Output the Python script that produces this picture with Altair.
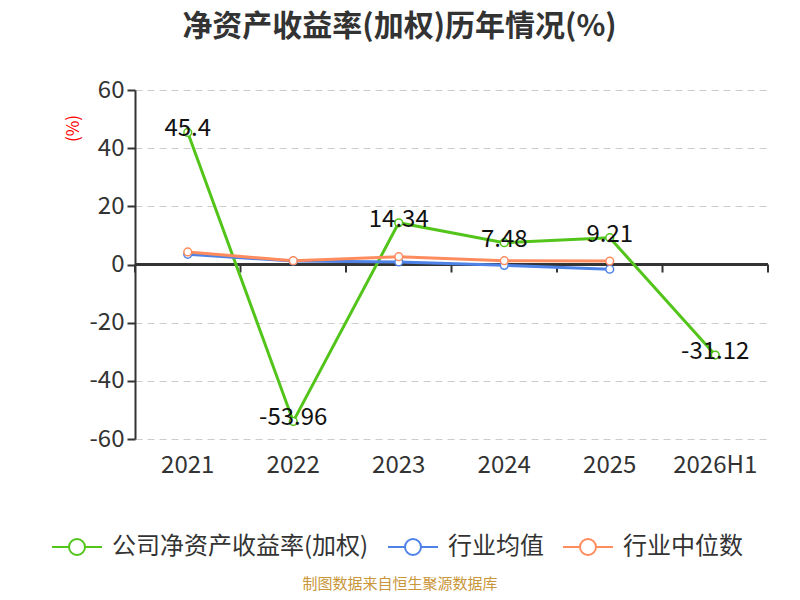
import altair as alt
import pandas as pd

YEARS = ["2021", "2022", "2023", "2024", "2025", "2026H1"]
COMPANY = [45.4, -53.96, 14.34, 7.48, 9.21, -31.12]
IND_AVG = [3.5, 1.2, 0.9, -0.3, -1.6, None]
IND_MEDIAN = [4.3, 1.3, 2.7, 1.3, 1.2, None]

SERIES = ["公司净资产收益率(加权)", "行业均值", "行业中位数"]
COLORS = ["#52c41a", "#4e82e6", "#ff8c5f"]
FONT = "Noto Sans CJK SC"
AXIS_COLOR = "#333333"

rows = []
for name, values in zip(SERIES, [COMPANY, IND_AVG, IND_MEDIAN]):
    for year, v in zip(YEARS, values):
        if v is not None:
            rows.append({"year": year, "series": name, "value": v, "label": f"{v:g}"})
df = pd.DataFrame(rows)
company = df[df["series"] == SERIES[0]]
years_df = pd.DataFrame({"year": YEARS})

# legend icon: short line, hollow circle, short line
LEGEND_PATH = (
    "M-1,0 L-0.32,0 M0.32,0 L1,0 "
    "M-0.32,0 A0.32,0.32 0 1,1 0.32,0 A0.32,0.32 0 1,1 -0.32,0 Z"
)

x_scale = alt.Scale(domain=YEARS, paddingInner=0, paddingOuter=0)
color_scale = alt.Scale(domain=SERIES, range=COLORS)

x_axis = alt.Axis(
    title=None,
    labelFont=FONT,
    labelFontSize=24,
    labelColor=AXIS_COLOR,
    labelAngle=0,
    labelPadding=14,
    domain=False,
    ticks=False,
    grid=False,
)


def x_enc(band=0.5):
    return alt.X("year:N", sort=YEARS, scale=x_scale, axis=x_axis, bandPosition=band)


color = alt.Color(
    "series:N",
    scale=color_scale,
    legend=alt.Legend(
        title=None,
        orient="none",
        direction="horizontal",
        legendX=-84,
        legendY=431,
        symbolType=LEGEND_PATH,
        symbolSize=2500,
        symbolStrokeWidth=2,
        symbolFillColor="white",
        labelFont=FONT,
        labelFontSize=24,
        labelColor=AXIS_COLOR,
        labelOffset=9,
        columnPadding=15,
        labelLimit=400,
    ),
)

y = alt.Y(
    "value:Q",
    scale=alt.Scale(domain=[-60, 60], nice=False),
    axis=alt.Axis(
        values=[-60, -40, -20, 0, 20, 40, 60],
        labelExpr="replace(datum.label, '−', '-')",
        title="(%)",
        titleColor="red",
        titleFont=FONT,
        titleFontSize=17,
        titleFontWeight="normal",
        titleAngle=270,
        titleX=-62,
        titleY=38,
        titleAlign="center",
        titleBaseline="middle",
        labelFont=FONT,
        labelFontSize=24,
        labelColor=AXIS_COLOR,
        labelPadding=3,
        tickSize=8,
        tickColor=AXIS_COLOR,
        domainColor=AXIS_COLOR,
        domainWidth=2,
        tickWidth=2,
        grid=True,
        gridColor="#cccccc",
        gridDash=[7, 5],
        gridWidth=1.2,
    ),
)

# category axis drawn on the zero line: line plus ticks at band edges
zero_line = (
    alt.Chart(years_df)
    .mark_rule(color=AXIS_COLOR, strokeWidth=2)
    .encode(x=alt.value(0), x2=alt.value(633), y=alt.datum(0))
)
band_ticks = (
    alt.Chart(years_df)
    .mark_rule(color=AXIS_COLOR, strokeWidth=2)
    .encode(x=x_enc(0), y=alt.datum(0), y2=alt.datum(-2.75))
)
end_tick = (
    alt.Chart(years_df.tail(1))
    .mark_rule(color=AXIS_COLOR, strokeWidth=2)
    .encode(x=x_enc(1), y=alt.datum(0), y2=alt.datum(-2.75))
)

base = alt.Chart(df)

lines = base.mark_line(strokeWidth=3).encode(x=x_enc(), y=y, color=color)
points = base.mark_point(filled=False, fill="white", size=60, strokeWidth=1.5, opacity=1).encode(
    x=x_enc(), y="value:Q", color=alt.Color("series:N", scale=color_scale)
)

labels = (
    alt.Chart(company)
    .mark_text(font=FONT, fontSize=24, color="#111111", dy=-3)
    .encode(x=x_enc(), y="value:Q", text="label:N")
)

source = (
    alt.Chart(pd.DataFrame({"t": ["制图数据来自恒生聚源数据库"]}))
    .mark_text(font=FONT, fontSize=15, color="#c9963a")
    .encode(x=alt.value(265), y=alt.value(494), text="t:N")
)

chart = (
    alt.layer(zero_line, band_ticks, end_tick, lines, points, labels, source)
    .properties(
        width=633,
        height=349,
        autosize="none",
        padding={"left": 127, "top": 82, "right": 24, "bottom": 153},
        title=alt.TitleParams(
            "净资产收益率(加权)历年情况(%)",
            font=FONT,
            fontSize=30,
            fontWeight="bold",
            color=AXIS_COLOR,
            anchor="middle",
            dx=-52,
            offset=36,
        ),
    )
    .configure_view(stroke=None)
)

chart.save("out.html", embed_options={"renderer": "svg", "actions": False})
